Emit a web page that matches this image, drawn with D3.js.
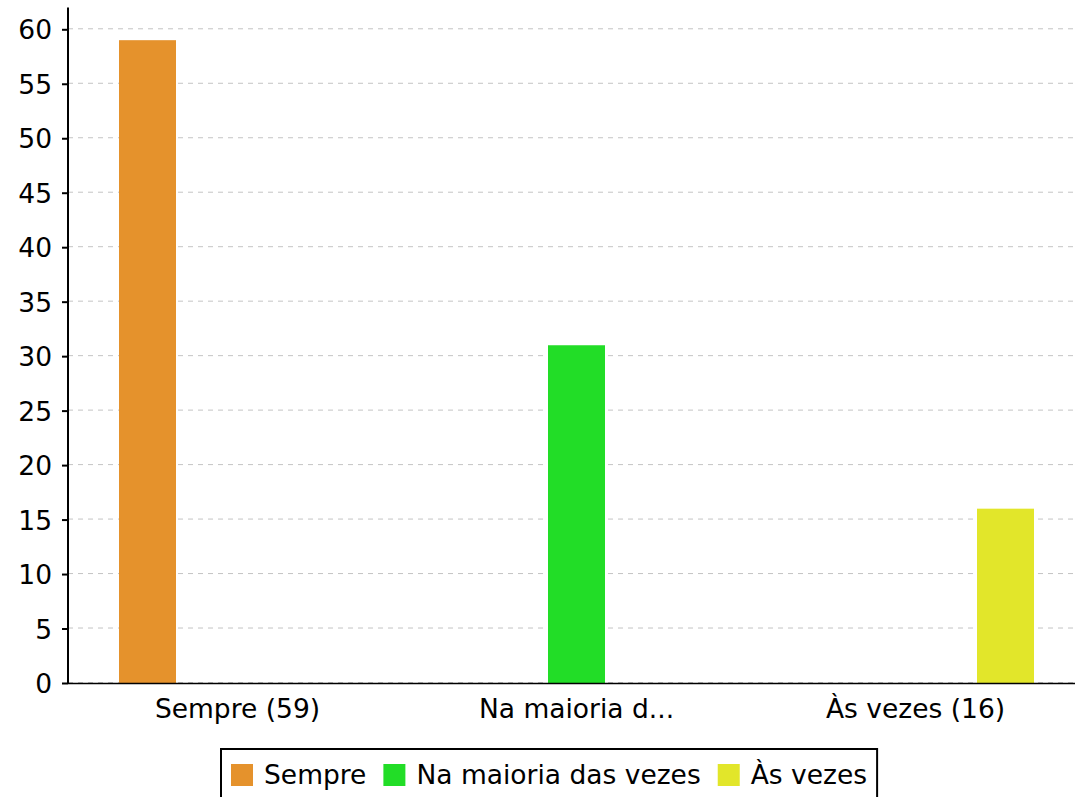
<!DOCTYPE html>
<html>
<head>
<meta charset="utf-8">
<script src="https://cdn.jsdelivr.net/npm/d3@7"></script>
<style>
  body { margin: 0; background: #fff; }
  svg text { font-family: "DejaVu Sans", sans-serif; fill: #000; }
</style>
</head>
<body>
<svg id="chart"></svg>
<script>
var categories = ['Sempre (59)', 'Na maioria d...', 'Às vezes (16)'];
var series = ['Sempre', 'Na maioria das vezes', 'Às vezes'];
var values = [59, 31, 16];
var colors = ['#e5922c', '#22dd27', '#e2e62a'];
var yTicks = [0, 5, 10, 15, 20, 25, 30, 35, 40, 45, 50, 55, 60];

var width = 1075, height = 797;
var fontSize = '26.5px';
var svg = d3.select('#chart').attr('width', width).attr('height', height);

// each category only holds its own series value, the rest are zero
var rows = categories.map(function(c, i){
    return series.map(function(s, j){
        return {series: s, value: i == j ? values[i] : 0, color: colors[j]};
    });
});

var x0 = d3.scaleBand().domain(categories).range([68, 1085]);
var x1 = d3.scaleBand().domain(series).range([51, 288]).paddingInner(0.3667);
var y = d3.scaleLinear().domain([0, 62]).range([683, 7.5]);

// grid
svg.append('g')
    .selectAll('line')
    .data(yTicks)
    .enter().append('line')
    .attr('x1', 68)
    .attr('x2', width)
    .attr('y1', function(d){ return y(d) - 0.5; })
    .attr('y2', function(d){ return y(d) - 0.5; })
    .attr('stroke', '#c4c4c4')
    .attr('stroke-width', 1)
    .attr('stroke-dasharray', '5,5');

// bars
var groups = svg.append('g')
    .selectAll('g')
    .data(rows)
    .enter().append('g')
    .attr('transform', function(d, i){ return 'translate(' + x0(categories[i]) + ',0)'; });

groups.selectAll('rect')
    .data(function(d){ return d; })
    .enter().append('rect')
    .attr('x', function(d){ return x1(d.series); })
    .attr('y', function(d){ return y(d.value); })
    .attr('width', x1.bandwidth())
    .attr('height', function(d){ return y(0) - y(d.value); })
    .attr('fill', function(d){ return d.color; });

// y axis
var yAxis = svg.append('g')
    .attr('transform', 'translate(68,0)')
    .call(d3.axisLeft(y).tickValues(yTicks).tickSize(6).tickPadding(10));
yAxis.select('.domain').attr('stroke', '#000').attr('stroke-width', 2)
    .attr('d', 'M0,' + y(62) + 'V' + y(0));
yAxis.selectAll('.tick line').attr('stroke', '#000').attr('stroke-width', 2);
yAxis.selectAll('.tick text')
    .style('font-family', '"DejaVu Sans", sans-serif')
    .style('font-size', fontSize)
    .attr('dy', '0.36em');

// x axis
var xAxis = svg.append('g')
    .attr('transform', 'translate(0,' + y(0) + ')')
    .call(d3.axisBottom(x0).tickSize(0).tickPadding(16));
xAxis.select('.domain').attr('stroke', '#000').attr('stroke-width', 1.5)
    .attr('d', 'M68,0.5H' + width);
xAxis.selectAll('.tick text')
    .style('font-family', '"DejaVu Sans", sans-serif')
    .style('font-size', fontSize)
    .attr('dy', '0.71em');

// legend
var legend = svg.append('g').attr('transform', 'translate(221,749)');
var box = legend.append('rect')
    .attr('x', 0).attr('y', 0)
    .attr('height', 60)
    .attr('fill', '#fff')
    .attr('stroke', '#000')
    .attr('stroke-width', 2);

var lx = 10;
series.forEach(function(s, i){
    legend.append('rect')
        .attr('x', lx).attr('y', 15)
        .attr('width', 22).attr('height', 22)
        .attr('fill', colors[i]);
    var t = legend.append('text')
        .attr('x', lx + 33)
        .attr('y', 34.5)
        .style('font-size', fontSize)
        .text(s);
    lx += 33 + t.node().getComputedTextLength() + 17;
});
box.attr('width', lx - 17 + 10);
</script>
</body>
</html>
